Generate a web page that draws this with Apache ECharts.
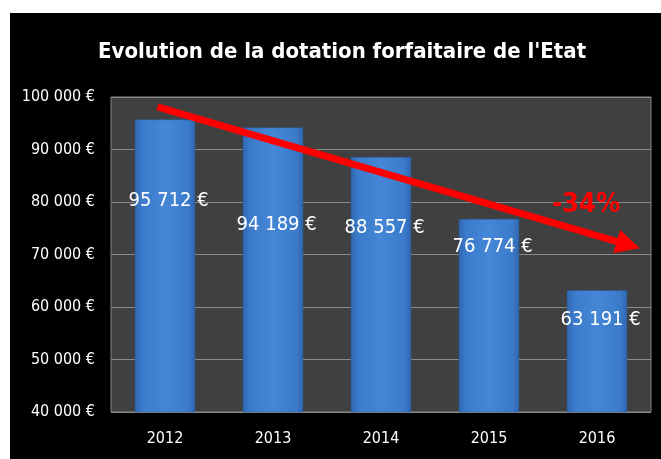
<!doctype html>
<html lang="fr">
  <head>
    <meta charset="UTF-8" />
    <title>Evolution de la dotation forfaitaire de l'Etat</title>
    <script src="https://cdn.jsdelivr.net/npm/echarts@6/dist/echarts.min.js"></script>
    <style>
      * { margin: 0; padding: 0; }
      html, body { width: 100%; height: 100%; background: #ffffff; overflow: hidden; }
      #chart { position: absolute; left: 10px; top: 13px; width: 651px; height: 446px; }
    </style>
  </head>
  <body>
    <div id="chart"></div>
    <script>
      const years = ['2012', '2013', '2014', '2015', '2016'];
      const dotation = [95712, 94189, 88557, 76774, 63191];
      const yTicks = [40000, 50000, 60000, 70000, 80000, 90000, 100000];
      // trend arrow, in (category position, value)
      const trendArrow = [[0.43, 98100], [4.79, 71850]];
      const trendText = '-34%';

      const font = '"DejaVu Sans Condensed", "Noto Sans", sans-serif';
      // label vertical placement inside each bar, px from bar top
      const labelDy = [81, 97, 71, 28, 30];

      function euro(v) {
        return String(v).replace(/\B(?=(\d{3})+(?!\d))/g, ' ') + ' €';
      }

      const barColor = new echarts.graphic.LinearGradient(0, 0, 1, 0, [
        { offset: 0, color: '#2f66ad' },
        { offset: 0.12, color: '#3b7bcb' },
        { offset: 0.5, color: '#4586d6' },
        { offset: 0.88, color: '#3b7bcb' },
        { offset: 1, color: '#2f66ad' },
      ]);

      const chart = echarts.init(document.getElementById('chart'));
      chart.setOption({
        backgroundColor: '#000000',
        title: [
          {
            text: "Evolution de la dotation forfaitaire de l'Etat",
            left: 83,
            top: 23,
            textStyle: { color: '#ffffff', fontFamily: font, fontWeight: 'bold', fontSize: 22 },
          },
          {
            text: trendText,
            left: 537,
            top: 173,
            textStyle: { color: '#ff0000', fontFamily: font, fontWeight: 'bold', fontSize: 27 },
          },
        ],
        grid: {
          left: 101,
          right: 10,
          top: 84,
          bottom: 47,
          show: true,
          backgroundColor: '#404040',
          borderColor: '#858585',
          borderWidth: 1,
        },
        xAxis: [
          {
            type: 'category',
            data: years,
            axisLine: { show: false },
            axisTick: { show: false },
            axisLabel: { color: '#ffffff', fontFamily: font, fontSize: 16, margin: 19 },
          },
          { type: 'value', min: 0, max: 5, show: false },
        ],
        yAxis: {
          type: 'value',
          min: yTicks[0],
          max: yTicks[yTicks.length - 1],
          interval: 10000,
          axisLine: { show: false },
          axisTick: { show: false },
          splitLine: { lineStyle: { color: '#8a8a8a', width: 1 } },
          axisLabel: {
            color: '#ffffff',
            fontFamily: font,
            fontSize: 16,
            margin: 16,
            formatter: euro,
          },
        },
        series: [
          {
            type: 'bar',
            barWidth: '56%',
            data: dotation.map((v, i) => ({
              value: v,
              label: { position: ['56%', labelDy[i]] },
            })),
            itemStyle: { color: barColor, borderColor: '#2a5a98', borderWidth: 0.5 },
            label: {
              show: true,
              color: '#ffffff',
              fontFamily: font,
              fontSize: 20,
              align: 'center',
              verticalAlign: 'middle',
              formatter: (p) => euro(p.value),
            },
            z: 2,
          },
          {
            type: 'line',
            xAxisIndex: 1,
            data: [],
            z: 5,
            markLine: {
              silent: true,
              symbol: ['none', 'triangle'],
              symbolSize: [24, 24],
              label: { show: false },
              lineStyle: { color: '#ff0000', width: 7, type: 'solid' },
              itemStyle: { color: '#ff0000' },
              data: [[{ coord: trendArrow[0] }, { coord: trendArrow[1] }]],
            },
          },
        ],
      });
    </script>
  </body>
</html>
